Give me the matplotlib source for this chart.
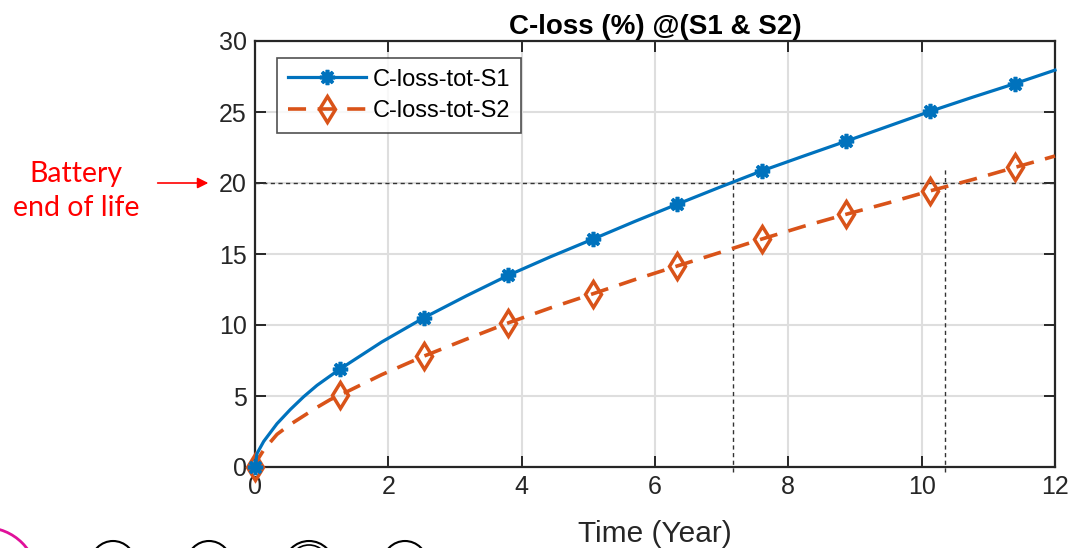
import matplotlib
matplotlib.use('Agg')
import numpy as np
from matplotlib import pyplot as plt
from matplotlib.patches import Circle

# capacity loss (%) over time (years), two scenarios
years = [0, 0.03, 0.13, 0.33, 0.53, 0.73, 0.93, 1.13, 1.27, 1.9, 2.53, 3.17, 3.8,
         4.43, 5.07, 5.7, 6.33, 6.97, 7.6, 8.23, 8.87, 9.5, 10.13, 10.77, 11.4, 12.0]
closs_s1 = [0, 0.95, 1.8, 3.05, 4.05, 4.95, 5.75, 6.42, 6.88, 8.8, 10.5, 12.05, 13.5,
            14.8, 16.05, 17.3, 18.5, 19.7, 20.85, 21.9, 22.95, 24.0, 25.05, 26.05, 27.0, 27.95]
closs_s2 = [0, 0.45, 1.2, 2.3, 3.0, 3.6, 4.2, 4.75, 5.05, 6.5, 7.8, 9.0, 10.15,
            11.2, 12.2, 13.2, 14.15, 15.1, 16.05, 16.95, 17.8, 18.6, 19.45, 20.25, 21.1, 21.9]
marker_idx = [0, 8, 10, 12, 14, 16, 18, 20, 22, 24]

eol_level = 20
eol_years = [7.17, 10.35]

labels = ['C-loss-tot-S1', 'C-loss-tot-S2']
colors = ['#0072BD', '#D95319']

plt.rcParams['font.family'] = ['Liberation Sans', 'DejaVu Sans']

fig = plt.figure(figsize=(10.72, 5.48), dpi=100)
ax = fig.add_axes([255/1072, 1 - 467/548, 800/1072, 426/548])

ax.grid(True, color='#DEDEDE', linewidth=1.5)
ax.set_axisbelow(True)

ax.plot(years, closs_s1, '-', color=colors[0], lw=2.3, marker=(8, 2, 0),
        markevery=marker_idx, ms=11, mew=2.6, label=labels[0], zorder=4, clip_on=False)
ax.plot(years, closs_s2, '--', color=colors[1], lw=2.6, dashes=(5, 3.2), marker='d',
        markevery=marker_idx, ms=13.5, mew=2.5, mfc='none', label=labels[1], zorder=3,
        clip_on=False)

# end of life markers
ax.axhline(eol_level, color='#333333', lw=1.0, ls=(0, (3, 2.5)), zorder=2)
for t in eol_years:
    ax.plot([t, t], [-0.35, eol_level + 1.1], color='#333333', lw=1.0,
            ls=(0, (3, 2.5)), clip_on=False, zorder=2)

ax.set_xlim(0, 12)
ax.set_ylim(0, 30)
ax.set_xticks(np.arange(0, 13, 2))
ax.set_yticks(np.arange(0, 31, 5))
ax.tick_params(direction='in', length=8, width=1.4, labelsize=18, colors='#262626',
               top=True, right=True, pad=6)
for s in ax.spines.values():
    s.set_linewidth(1.6)
    s.set_color('#262626')

ax.set_title('C-loss (%) @(S1 & S2)', fontsize=20, fontweight='bold', pad=5)
ax.set_xlabel('Time (Year)', fontsize=21.5, color='#262626', labelpad=15)

leg = ax.legend(loc='upper left', bbox_to_anchor=(0.0275, 0.96), fontsize=17,
                frameon=True, fancybox=False, edgecolor='#262626', borderpad=0.45,
                handlelength=3.3, handletextpad=0.3, labelspacing=0.4, borderaxespad=0)
leg.get_frame().set_linewidth(1.2)

fig.text(76/1072, 1 - 191/548, 'Battery\nend of life', color='#FF0000', fontsize=20.5,
         family=['Lato', 'DejaVu Sans'], ha='center', va='center', linespacing=1.4)
ax.annotate('', xy=(-0.7, eol_level), xytext=(-1.46, eol_level),
            xycoords='data', annotation_clip=False,
            arrowprops=dict(arrowstyle='-|>', color='#FF0000', lw=1.2,
                            mutation_scale=16, shrinkA=0, shrinkB=0))

# partial outlines along the bottom edge (pixel coordinates)
fig.patches.append(Circle((-15, -32), 52.5, transform=None, fill=False,
                          ec='#E0109A', lw=2))
for cx, r in [(113, 22), (209, 22), (309, 25), (405, 22)]:
    fig.patches.append(Circle((cx, 7 - r), r, transform=None,
                              fill=False, ec='black', lw=1.5))
fig.patches.append(Circle((309, 3 - 20), 20, transform=None,
                          fill=False, ec='black', lw=1.2))

fig.savefig('out.png', dpi=100)
